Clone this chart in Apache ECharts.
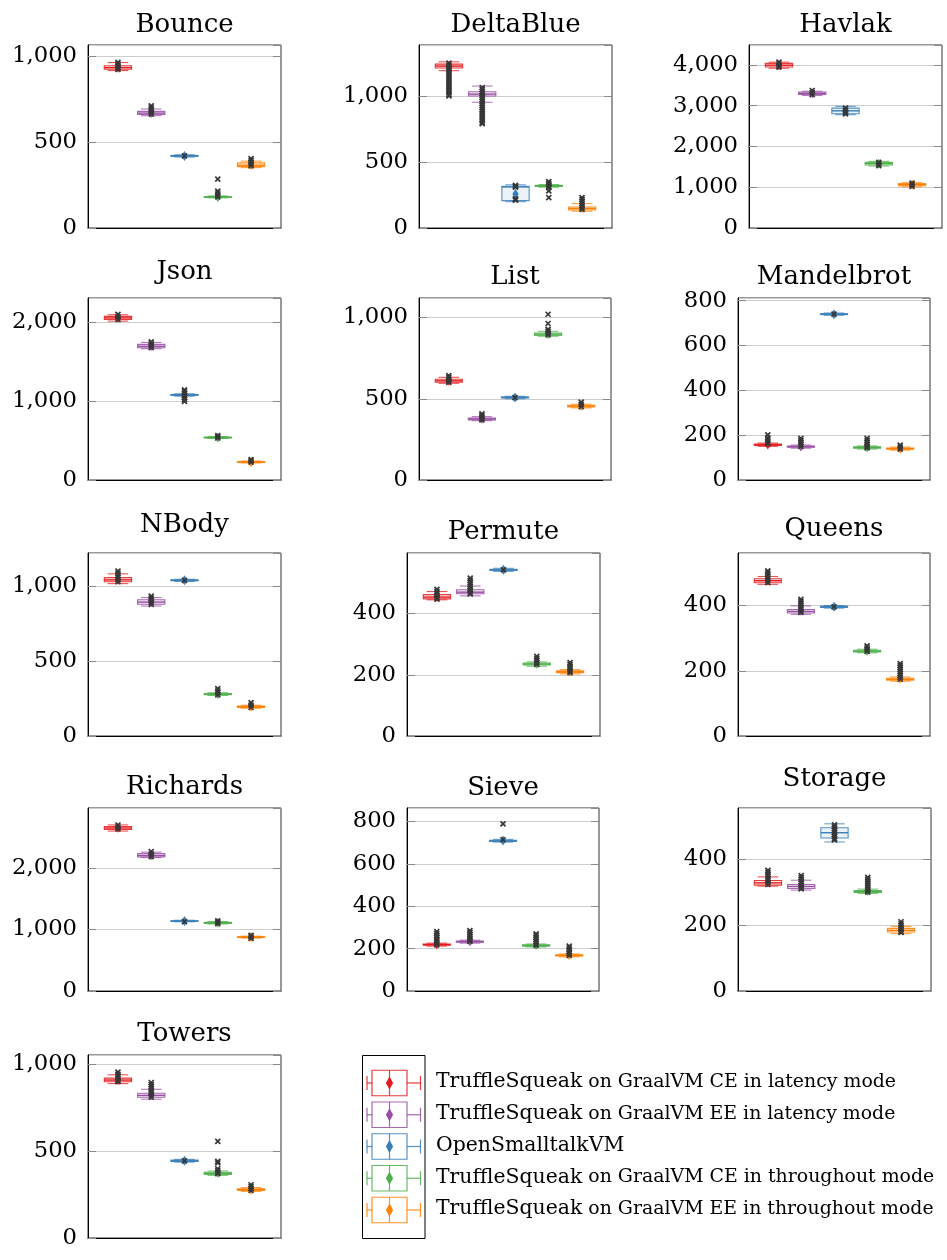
<!DOCTYPE html>
<html><head><meta charset="utf-8">
<script src="https://cdn.jsdelivr.net/npm/echarts@6/dist/echarts.min.js"></script>
<style>html,body{margin:0;padding:0;background:#fff}#chart{width:947px;height:1260px}</style>
</head><body><div id="chart"></div>
<script>
// ---------------- data ----------------
const benchmarks = ['Bounce','DeltaBlue','Havlak','Json','List','Mandelbrot','NBody','Permute','Queens','Richards','Sieve','Storage','Towers'];
const vmNames = [
  'TruffleSqueak on GraalVM CE in latency mode',
  'TruffleSqueak on GraalVM EE in latency mode',
  'OpenSmalltalkVM',
  'TruffleSqueak on GraalVM CE in throughout mode',
  'TruffleSqueak on GraalVM EE in throughout mode'
];
const vmColors = ['#e41a1c','#984ea3','#377eb8','#4daf4a','#ff7f00'];

// five-number summaries per VM: [lowWhisker, q1, median, q3, highWhisker]
const bounceBoxes = [[918,926,935,946,965],[655,662,670,680,694],[414,418,420,423,427],[176,179,181,183,187],[352,358,366,380,390]];
const bounceMeans = [936,671,420,181,368];
const bounceOutliers = [[966,955,945,935,925],[712,700,688,676,664],[420],[285,215,204,192,181],[404,393,383,372,362]];

const deltaBlueBoxes = [[1195,1215,1230,1245,1262],[955,1003,1017,1035,1078],[200,208,312,317,328],[310,316,320,324,330],[128,137,148,160,185]];
const deltaBlueMeans = [1226,1010,258,320,152];
const deltaBlueOutliers = [
  [1252,1237,1222,1207,1192,1177,1162,1147,1132,1117,1102,1087,1072,1057,1042,1027,1012,1004],
  [1067,1052,1037,1022,1007,992,977,962,947,932,917,902,887,872,857,842,827,812,797,793],
  [324,316,310,222,216,212],[352,340,329,317,306,282,231],[230,215,200,185,170,155,141]];

const havlakBoxes = [[3920,3950,3995,4040,4070],[3250,3275,3305,3335,3355],[2780,2805,2875,2940,2985],[1520,1545,1580,1610,1635],[1010,1035,1062,1088,1112]];
const havlakMeans = [3995,3305,2872,1578,1062];
const havlakOutliers = [[4070,4020,3970,3946],[3374,3324,3274],[2939,2892,2845,2798],[1611,1570,1529],[1102,1061,1020]];

const jsonBoxes = [[2010,2030,2050,2070,2090],[1660,1672,1692,1715,1740],[1060,1070,1076,1082,1090],[525,532,537,542,550],[215,222,227,232,240]];
const jsonMeans = [2051,1694,1077,538,228];
const jsonOutliers = [[2094,2063,2032],[1746,1722,1698,1675],[1141,1116,1091,1067,1042,1018,994],[561,546,531],[258,241,225]];

const listBoxes = [[595,602,610,620,632],[365,370,376,382,390],[500,505,508,511,515],[885,890,898,905,915],[444,450,455,460,466]];
const listMeans = [611,377,508,899,456];
const listOutliers = [[642,631,620,610,601],[407,397,388,379,370],[507],[1020,963,927,916,904,893],[479,466,452]];

const mandelbrotBoxes = [[150,154,157,160,165],[142,146,149,152,156],[735,738,740,742,745],[138,142,145,148,152],[133,137,140,143,147]];
const mandelbrotMeans = [158,150,740,146,141];
const mandelbrotOutliers = [[201,188,179,170,162],[186,177,168,159,150],[740],[186,176,167,158,150,143],[156,147,138]];

const nBodyBoxes = [[1015,1027,1040,1055,1080],[866,878,892,908,922],[1030,1034,1037,1040,1044],[270,275,279,283,288],[185,191,195,199,205]];
const nBodyMeans = [1042,893,1037,280,196];
const nBodyOutliers = [[1098,1084,1070,1056,1042,1028],[932,918,904,890,877],[1036],[315,301,288,274],[222,206,190]];

const permuteBoxes = [[445,448,454,462,472],[458,465,470,478,490],[538,541,543,545,548],[228,232,235,238,242],[203,207,210,213,217]];
const permuteMeans = [455,472,543,236,211];
const permuteOutliers = [[479,472,465,458,451,447],[516,509,502,495,488,481,474,467,464],[543],[260,253,246,240,234],[240,233,226,219,212,207]];

const queensBoxes = [[465,470,476,482,489],[373,377,382,388,399],[392,394,396,398,400],[255,258,260,263,266],[168,171,174,177,181]];
const queensMeans = [477,384,396,261,176];
const queensOutliers = [[506,500,494,488,482,476,470],[419,413,407,401,395,389,383,379],[396],[276,270,264,259],[222,216,210,204,198,192,186,180,174]];

const richardsBoxes = [[2600,2625,2650,2675,2700],[2170,2180,2205,2235,2257],[1125,1132,1137,1142,1150],[1090,1100,1110,1118,1128],[860,870,876,882,892]];
const richardsMeans = [2652,2208,1138,1110,877];
const richardsOutliers = [[2699,2666,2634],[2265,2225,2184],[1129],[1140,1118,1096],[905,880,856]];

const sieveBoxes = [[212,216,219,222,226],[226,230,233,236,240],[703,706,709,712,716],[208,212,215,218,222],[161,165,168,171,175]];
const sieveMeans = [221,235,710,217,170];
const sieveOutliers = [[281,272,263,254,245,236,227,218],[285,276,267,258,249,240,234],[789,714],[270,261,252,243,234,225,215],[212,203,194,185,176,168]];

const storageBoxes = [[318,321,328,335,346],[306,311,317,323,336],[452,464,480,495,507],[296,299,302,305,309],[174,179,184,190,196]];
const storageMeans = [329,318,480,303,185];
const storageOutliers = [[366,360,354,348,342,336,330,323],[350,344,338,332,326,320,314,310],[504,498,492,486,480,474,468,462,458],[345,339,333,327,321,315,309,303,300],[210,204,198,192,186,180,178]];

const towersBoxes = [[888,898,908,919,938],[798,809,820,832,855],[436,440,444,448,452],[360,366,372,378,385],[268,273,278,283,290]];
const towersMeans = [909,822,444,373,279];
const towersOutliers = [[953,941,929,917,905,899],[894,882,870,858,846,834,822,809],[443],[556,441,432,398,387,377,370],[306,295,284,274]];

// y axis settings per benchmark
const yAxisMax = [1067,1390,4490,2302,1120,812,1219,598,561,2975,864,555,1052];
const yAxisInterval = [500,500,1000,1000,500,200,500,200,200,1000,200,200,500];

// ---------------- layout ----------------
const panelRects = [
  [88,45,193,183],[419,45,193,183],[749,45,193,183],
  [88,298,193,182],[419,298,192,182],[738,298,192,182],
  [88,553,193,183],[407,553,193,183],[738,553,192,183],
  [88,808,193,183],[407,808,192,183],[738,808,193,183],
  [88,1055,193,183]
];
const titleBaselines = [34.3,34.3,34.3,281.7,286,286,534.3,541.7,538.3,796.7,797.3,788.3,1043.3];

const panels = [
  [bounceBoxes,bounceMeans,bounceOutliers],
  [deltaBlueBoxes,deltaBlueMeans,deltaBlueOutliers],
  [havlakBoxes,havlakMeans,havlakOutliers],
  [jsonBoxes,jsonMeans,jsonOutliers],
  [listBoxes,listMeans,listOutliers],
  [mandelbrotBoxes,mandelbrotMeans,mandelbrotOutliers],
  [nBodyBoxes,nBodyMeans,nBodyOutliers],
  [permuteBoxes,permuteMeans,permuteOutliers],
  [queensBoxes,queensMeans,queensOutliers],
  [richardsBoxes,richardsMeans,richardsOutliers],
  [sieveBoxes,sieveMeans,sieveOutliers],
  [storageBoxes,storageMeans,storageOutliers],
  [towersBoxes,towersMeans,towersOutliers]
];

const FONT = 'DejaVu Serif';
const TITLE_SIZE = 26;
function fade(hex, a) {
  const n = parseInt(hex.slice(1), 16);
  return `rgba(${(n>>16)&255},${(n>>8)&255},${n&255},${a})`;
}

function renderBox(params, api) {
  const x = api.value(0);
  const c = vmColors[api.value(7)];
  const pLow = api.coord([x, api.value(1)]);
  const pQ1 = api.coord([x, api.value(2)]);
  const pMed = api.coord([x, api.value(3)]);
  const pQ3 = api.coord([x, api.value(4)]);
  const pHigh = api.coord([x, api.value(5)]);
  const pMean = api.coord([x, api.value(6)]);
  const bw = api.size([0.82, 0])[0];
  const cw = api.size([0.62, 0])[0];
  const cx = pMed[0];
  const st = {stroke: c, lineWidth: 1.1, fill: null, opacity: 0.75};
  return {type: 'group', children: [
    {type: 'line', shape: {x1: cx, y1: pQ1[1], x2: cx, y2: pLow[1]}, style: st},
    {type: 'line', shape: {x1: cx, y1: pQ3[1], x2: cx, y2: pHigh[1]}, style: st},
    {type: 'line', shape: {x1: cx - cw/2, y1: pLow[1], x2: cx + cw/2, y2: pLow[1]}, style: st},
    {type: 'line', shape: {x1: cx - cw/2, y1: pHigh[1], x2: cx + cw/2, y2: pHigh[1]}, style: st},
    {type: 'rect', shape: {x: cx - bw/2, y: pQ3[1], width: bw, height: Math.max(0, pQ1[1] - pQ3[1])},
      style: {stroke: c, lineWidth: 1.1, fill: fade(c, 0.12), opacity: 0.85}},
    {type: 'line', shape: {x1: cx - bw/2, y1: pMed[1], x2: cx + bw/2, y2: pMed[1]}, style: {stroke: c, lineWidth: 1.4, fill: null}},
    {type: 'polygon', shape: {points: [[cx, pMean[1]-5],[cx+3.2, pMean[1]],[cx, pMean[1]+5],[cx-3.2, pMean[1]]]}, style: {fill: c}}
  ]};
}

function renderMark(params, api) {
  const p = api.coord([api.value(0), api.value(1)]);
  const s = 2.5;
  const st = {stroke: '#383838', lineWidth: 1.7, fill: null};
  return {type: 'group', children: [
    {type: 'line', shape: {x1: p[0]-s, y1: p[1]-s, x2: p[0]+s, y2: p[1]+s}, style: st},
    {type: 'line', shape: {x1: p[0]+s, y1: p[1]-s, x2: p[0]-s, y2: p[1]+s}, style: st}
  ]};
}

const grid = [], xAxis = [], yAxis = [], series = [], graphic = [];
panels.forEach((pd, i) => {
  const [boxes, means, outs] = pd;
  const r = panelRects[i];
  grid.push({left: r[0], top: r[1], width: r[2], height: r[3], show: true, borderColor: '#333', borderWidth: 1, containLabel: false});
  xAxis.push({gridIndex: i, type: 'value', min: 0.1, max: 5.9,
    axisLine: {show: true, onZero: false, lineStyle: {color: '#000', width: 1}},
    axisTick: {show: false}, axisLabel: {show: false}, splitLine: {show: false}});
  yAxis.push({gridIndex: i, type: 'value', min: 0, max: yAxisMax[i], interval: yAxisInterval[i],
    axisLine: {show: true, lineStyle: {color: '#000', width: 1}},
    axisTick: {show: true, inside: true, length: 8, lineStyle: {color: '#8a8a8a'}},
    axisLabel: {color: '#000', fontFamily: FONT, fontSize: 22.7, margin: 11, showMaxLabel: false,
      formatter: v => v.toLocaleString('en-US')},
    splitLine: {show: true, lineStyle: {color: '#cdcdcd', width: 1}}});
  yAxis.push({gridIndex: i, type: 'value', position: 'right', min: 0, max: yAxisMax[i], interval: yAxisInterval[i],
    axisLine: {show: false}, axisLabel: {show: false}, splitLine: {show: false},
    axisTick: {show: true, inside: true, length: 8, lineStyle: {color: '#8a8a8a'}}});
  series.push({type: 'custom', xAxisIndex: i, yAxisIndex: 2*i, renderItem: renderBox,
    encode: {x: 0, y: [1,2,3,4,5]},
    data: boxes.map((b, k) => [k + 1, b[0], b[1], b[2], b[3], b[4], means[k], k])});
  const marks = [];
  outs.forEach((list, k) => list.forEach(v => marks.push([k + 1, v, k])));
  series.push({type: 'custom', xAxisIndex: i, yAxisIndex: 2*i, renderItem: renderMark,
    encode: {x: 0, y: 1}, data: marks, z: 3});
  graphic.push({type: 'text', x: r[0] + r[2]/2, y: titleBaselines[i] - 0.346*TITLE_SIZE,
    style: {text: benchmarks[i], fontFamily: FONT, fontSize: TITLE_SIZE, fill: '#000',
      align: 'center', verticalAlign: 'middle', textAlign: 'center', textVerticalAlign: 'middle'}});
});

// legend (drawn as graphic)
graphic.push({type: 'rect', shape: {x: 362.5, y: 1055.5, width: 62.5, height: 183},
  style: {fill: '#fff', stroke: '#000', lineWidth: 1}});
vmNames.forEach((name, k) => {
  const yc = 1083 + k * 31.75;
  const c = vmColors[k];
  const st = {stroke: c, lineWidth: 1.2, fill: null, opacity: 0.85};
  const bx0 = 372, bx1 = 407, mx = 389.5;
  graphic.push({type: 'group', children: [
    {type: 'line', shape: {x1: 367, y1: yc, x2: bx0, y2: yc}, style: st},
    {type: 'line', shape: {x1: bx1, y1: yc, x2: 420.5, y2: yc}, style: st},
    {type: 'line', shape: {x1: 367, y1: yc - 7, x2: 367, y2: yc + 7}, style: st},
    {type: 'line', shape: {x1: 420.5, y1: yc - 7, x2: 420.5, y2: yc + 7}, style: st},
    {type: 'rect', shape: {x: bx0, y: yc - 12.75, width: bx1 - bx0, height: 25.5}, style: {stroke: c, lineWidth: 1.2, fill: null, opacity: 0.85}},
    {type: 'line', shape: {x1: mx, y1: yc - 12.75, x2: mx, y2: yc + 12.75}, style: st},
    {type: 'polygon', shape: {points: [[mx, yc-6.5],[mx+3.6, yc],[mx, yc+6.5],[mx-3.6, yc]]}, style: {fill: c}}
  ]});
  let txt;
  if (name.startsWith('TruffleSqueak')) {
    txt = '{b|TruffleSqueak}{s|' + name.slice('TruffleSqueak'.length) + '}';
  } else {
    txt = '{b|' + name + '}';
  }
  graphic.push({type: 'text', x: 436, y: yc - 1,
    style: {text: txt, fill: '#000', verticalAlign: 'middle', textVerticalAlign: 'middle', align: 'left', textAlign: 'left',
      rich: {b: {fontFamily: FONT, fontSize: 20.4, fill: '#000', color: '#000'}, s: {fontFamily: FONT, fontSize: 18.9, fill: '#000', color: '#000'}}}});
});

const chart = echarts.init(document.getElementById('chart'), null, {renderer: 'canvas'});
chart.setOption({animation: false, backgroundColor: '#fff', grid, xAxis, yAxis, series, graphic});
</script></body></html>
